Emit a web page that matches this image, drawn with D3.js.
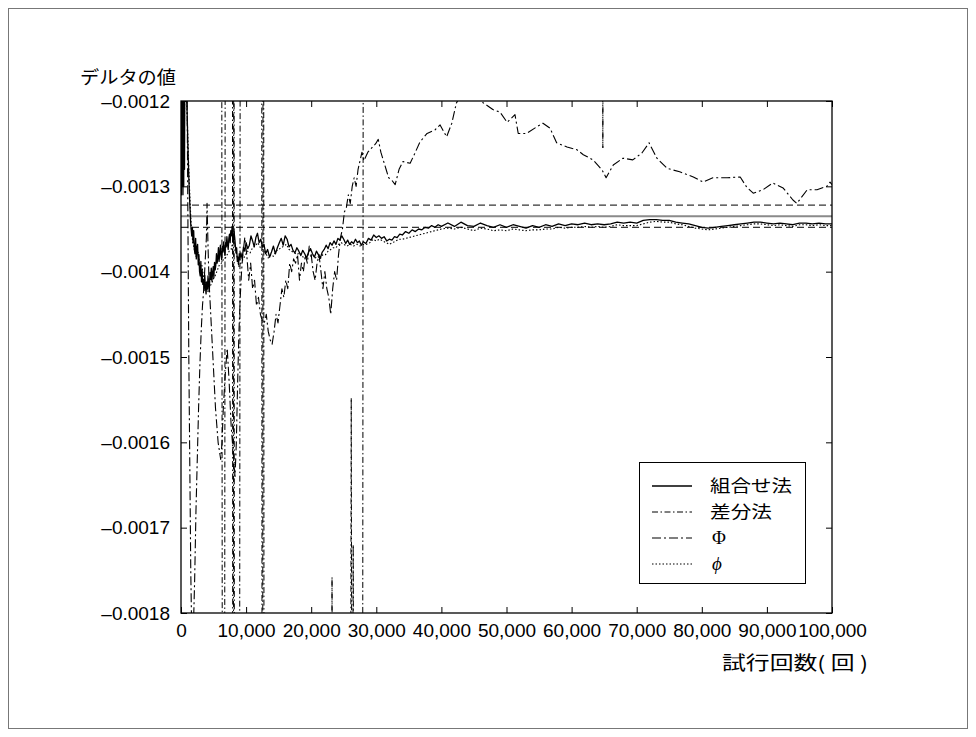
<!DOCTYPE html>
<html>
<head>
<meta charset="utf-8">
<script src="https://cdn.jsdelivr.net/npm/d3@7/dist/d3.min.js"></script>
<style>
  html, body { margin: 0; padding: 0; background: #fff; }
  svg { display: block; }
</style>
</head>
<body>
<svg id="chart" width="976" height="737"></svg>
<script>
// ---- data: [試行回数, デルタ推定値] ----
const xTicks = [0, 10000, 20000, 30000, 40000, 50000, 60000, 70000, 80000, 90000, 100000];
const xTickLabels = ["0", "10,000", "20,000", "30,000", "40,000", "50,000", "60,000", "70,000", "80,000", "90,000", "100,000"];
const yTicks = [-0.0012, -0.0013, -0.0014, -0.0015, -0.0016, -0.0017, -0.0018];
const yTickLabels = ["\u20130.0012", "\u20130.0013", "\u20130.0014", "\u20130.0015", "\u20130.0016", "\u20130.0017", "\u20130.0018"];

// reference level and its band
const refCenter = -0.001335;
const refBand = [-0.001322, -0.001348];

const seriesNames = ["組合せ法", "差分法", "Φ", "ϕ"];

const comboSeries = [
  [0,-0.00105],[60,-0.00131],[120,-0.00108],[180,-0.00130],[240,-0.00109],[300,-0.00131],
  [360,-0.00111],[420,-0.00130],[480,-0.00110],[540,-0.00128],[600,-0.00112],[750,-0.00116],
  [900,-0.00120],[1050,-0.00125],[1200,-0.00129],[1350,-0.00132],[1500,-0.001345],[1650,-0.001358],
  [1750,-0.001348],[1850,-0.001366],[1950,-0.001352],[2050,-0.001374],[2150,-0.001379],[2250,-0.001361],
  [2350,-0.001385],[2450,-0.001372],[2550,-0.001368],[2650,-0.001392],[2750,-0.00138],[2850,-0.0014],
  [2950,-0.001405],[3050,-0.001388],[3150,-0.001412],[3250,-0.001398],[3350,-0.001415],[3450,-0.001409],
  [3550,-0.001422],[3650,-0.001404],[3750,-0.001418],[3850,-0.001426],[3950,-0.001412],[4050,-0.00142],
  [4150,-0.001405],[4250,-0.001417],[4350,-0.001423],[4450,-0.001401],[4550,-0.001409],[4650,-0.001396],
  [4750,-0.001411],[4850,-0.001402],[4950,-0.001394],[5050,-0.001407],[5150,-0.001389],[5250,-0.001398],
  [5350,-0.001392],[5450,-0.001379],[5550,-0.00139],[5650,-0.001384],[5750,-0.001372],[5850,-0.001388],
  [5950,-0.001378],[6050,-0.001369],[6150,-0.001381],[6250,-0.001386],[6350,-0.00137],[6450,-0.001377],
  [6550,-0.001365],[6650,-0.001374],[6750,-0.001381],[6850,-0.001366],[6950,-0.001371],[7050,-0.001359],
  [7150,-0.001368],[7250,-0.001374],[7350,-0.001361],[7450,-0.001356],[7550,-0.001366],[7650,-0.001352],
  [7750,-0.001358],[7850,-0.001347],[7950,-0.001359],[8050,-0.001364],[8150,-0.001353],[8250,-0.00136],
  [8350,-0.001369],[8450,-0.001378],[8550,-0.001372],[8650,-0.001388],[8750,-0.001383],[8850,-0.001392],
  [8950,-0.001379],[9050,-0.001386],[9200,-0.001378],[9400,-0.001385],[9600,-0.001371],[9800,-0.001376],
  [10000,-0.001366],[10250,-0.001373],[10500,-0.001369],[10750,-0.001358],[11000,-0.001364],[11250,-0.001371],
  [11500,-0.00136],[11750,-0.001355],[12000,-0.001366],[12250,-0.001362],[12500,-0.001371],[12750,-0.001368],
  [13000,-0.001379],[13300,-0.001374],[13600,-0.001383],[13900,-0.001377],[14200,-0.00137],[14500,-0.001379],
  [14800,-0.001372],[15100,-0.001366],[15400,-0.001361],[15700,-0.001369],[16000,-0.001358],[16300,-0.001362],
  [16600,-0.001371],[16900,-0.001368],[17200,-0.001375],[17500,-0.001378],[17800,-0.001372],[18100,-0.001376],
  [18400,-0.001381],[18700,-0.001375],[19000,-0.001379],[19300,-0.001384],[19600,-0.001377],[19900,-0.001373],
  [20200,-0.001379],[20500,-0.001383],[20800,-0.001376],[21100,-0.00138],[21400,-0.001384],[21700,-0.001377],
  [22000,-0.001374],[22300,-0.001369],[22600,-0.001373],[22900,-0.001366],[23200,-0.001369],[23500,-0.001364],
  [23800,-0.001368],[24100,-0.001361],[24400,-0.001363],[24700,-0.001358],[25000,-0.001362],[25300,-0.001367],
  [25600,-0.001363],[25900,-0.001368],[26200,-0.001365],[26500,-0.001367],[26800,-0.001362],[27100,-0.001366],
  [27400,-0.001364],[27700,-0.001369],[28000,-0.001365],[28400,-0.001367],[28800,-0.001361],[29200,-0.001363],
  [29600,-0.001357],[30000,-0.00136],[30400,-0.001358],[30800,-0.001361],[31200,-0.001359],[31600,-0.001364],
  [32000,-0.001362],[32400,-0.001363],[32800,-0.001359],[33200,-0.00136],[33600,-0.001356],[34000,-0.001357],
  [34500,-0.001353],[35000,-0.001355],[35500,-0.001351],[36000,-0.001353],[36500,-0.00135],[37000,-0.001351],
  [37500,-0.001348],[38000,-0.001349],[38500,-0.001346],[39000,-0.001348],[39500,-0.001345],[40000,-0.001347],
  [41000,-0.001343],[42000,-0.001347],[43000,-0.001342],[44000,-0.001346],[45000,-0.001347],[46000,-0.001343],
  [47000,-0.001346],[48000,-0.001348],[49000,-0.001345],[50000,-0.001348],[51000,-0.001345],[52000,-0.001347],
  [53000,-0.001349],[54000,-0.001346],[55000,-0.001348],[56000,-0.001345],[57000,-0.001347],[58000,-0.001344],
  [59000,-0.001346],[60000,-0.001344],[61000,-0.001345],[62000,-0.001343],[63000,-0.001345],[64000,-0.001344],
  [65000,-0.001345],[66000,-0.001344],[67000,-0.001342],[68000,-0.001343],[69000,-0.001342],[70000,-0.001343],
  [71000,-0.00134],[72000,-0.001339],[73000,-0.001339],[74000,-0.00134],[75000,-0.00134],[76000,-0.001342],
  [77000,-0.001343],[78000,-0.001344],[79000,-0.001346],[80000,-0.001348],[81000,-0.001349],[82000,-0.001348],
  [83000,-0.001347],[84000,-0.001346],[85000,-0.001345],[86000,-0.001344],[87000,-0.001343],[88000,-0.001342],
  [89000,-0.001342],[90000,-0.001343],[91000,-0.001344],[92000,-0.001343],[93000,-0.001344],[94000,-0.001345],
  [95000,-0.001343],[96000,-0.001343],[97000,-0.001344],[98000,-0.001343],[99000,-0.001344],[100000,-0.001344]
];

const sabunSeries = [
  [0,-0.00100],[6250,-0.00100],[6350,-0.00200],[6700,-0.00200],[6800,-0.00100],
  [7900,-0.00100],[7950,-0.00200],[8050,-0.00200],[8100,-0.00100],[8150,-0.00100],[8200,-0.00200],
  [9000,-0.00200],[9100,-0.00100],[12400,-0.00100],[12450,-0.00200],[12550,-0.00200],
  [12600,-0.00100],[12700,-0.00100],[12750,-0.00200],
  [23150,-0.00200],[23200,-0.001758],[23250,-0.00200],[26050,-0.00200],
  [26150,-0.001548],[26250,-0.00200],[26350,-0.00200],[26450,-0.00172],[26550,-0.00200],
  [27900,-0.00200],[28000,-0.00100],[64750,-0.00100],[64800,-0.001255],[64850,-0.00100],
  [100000,-0.00100]
];

const bigPhiSeries = [
  [0,-0.00110],[300,-0.00112],[600,-0.00109],[900,-0.00115],[1200,-0.00150],[1500,-0.00175],
  [1700,-0.00185],[1900,-0.00182],[2100,-0.00176],[2300,-0.00168],[2500,-0.00162],[2700,-0.00156],
  [2900,-0.00151],[3100,-0.00147],[3300,-0.00144],[3500,-0.00142],[3700,-0.00139],[3900,-0.00136],
  [4000,-0.00132],[4150,-0.00137],[4300,-0.00141],[4500,-0.00144],[4700,-0.00147],[4900,-0.00150],
  [5100,-0.00153],[5300,-0.00156],[5500,-0.00158],[5700,-0.00160],[5900,-0.00161],[6100,-0.00162],
  [6300,-0.00160],[6500,-0.00156],[6800,-0.00152],[7100,-0.00149],[7400,-0.00153],[7700,-0.00158],
  [8000,-0.00161],[8300,-0.00164],[8500,-0.00160],[8700,-0.00153],[8900,-0.00147],[9100,-0.00143],
  [9300,-0.00140],[9500,-0.00138],[9800,-0.00136],[10100,-0.00138],[10400,-0.00141],[10700,-0.00139],
  [11000,-0.00142],[11300,-0.00141],[11600,-0.00144],[11900,-0.00143],[12200,-0.00145],[12500,-0.001458],
  [12800,-0.00146],[13100,-0.00145],[13400,-0.00147],[13700,-0.00148],[14000,-0.001485],[14300,-0.00147],
  [14600,-0.00145],[14900,-0.00146],[15200,-0.00144],[15500,-0.00142],[15800,-0.00143],[16100,-0.00141],
  [16400,-0.00142],[16700,-0.00139],[17000,-0.00140],[17300,-0.001385],[17600,-0.00139],[17900,-0.00138],
  [18200,-0.00141],[18500,-0.00139],[18800,-0.00140],[19100,-0.00138],[19400,-0.00139],[19700,-0.00137],
  [20000,-0.00138],[20300,-0.00140],[20600,-0.00141],[20900,-0.00139],[21200,-0.00138],[21500,-0.00140],
  [21800,-0.00142],[22100,-0.00140],[22400,-0.00142],[22700,-0.00143],[23000,-0.00145],[23300,-0.00142],
  [23600,-0.00140],[23900,-0.00141],[24200,-0.00138],[24500,-0.00136],[24800,-0.00135],[25100,-0.00133],
  [25400,-0.001325],[25700,-0.00131],[26000,-0.00132],[26300,-0.00130],[26600,-0.00129],[26900,-0.00130],
  [27200,-0.00128],[27500,-0.00127],[27800,-0.00126],[28100,-0.00127],[28700,-0.00126],[29300,-0.001255],
  [29900,-0.00125],[30300,-0.001245],[30700,-0.00126],[31100,-0.00127],[31500,-0.00128],[31900,-0.00129],
  [32300,-0.001292],[32900,-0.001298],[33500,-0.00128],[34100,-0.001271],[35200,-0.001273],[36000,-0.00126],
  [36700,-0.001248],[37800,-0.001238],[39000,-0.001234],[39800,-0.001228],[40800,-0.001242],[41600,-0.001226],
  [42300,-0.0012025],[43200,-0.00119],[44400,-0.00118],[45500,-0.00119],[46400,-0.001202],[47900,-0.00121],
  [49000,-0.001213],[50100,-0.001225],[51300,-0.001216],[51800,-0.001238],[53100,-0.001238],[54700,-0.00123],
  [55600,-0.001226],[56700,-0.001232],[57700,-0.001249],[59300,-0.001254],[60800,-0.001257],[61800,-0.001263],
  [63300,-0.001269],[64700,-0.001281],[65300,-0.00129],[66400,-0.001275],[67900,-0.001267],[69400,-0.001269],
  [70800,-0.001261],[71900,-0.001249],[73100,-0.001267],[74700,-0.001279],[76600,-0.001283],[78700,-0.001289],
  [80200,-0.001295],[81700,-0.00129],[83900,-0.00129],[85900,-0.001289],[86900,-0.001301],[87900,-0.001308],
  [89400,-0.001304],[90900,-0.001296],[92500,-0.001302],[94000,-0.001316],[94600,-0.00132],[96200,-0.001304],
  [97700,-0.001304],[99200,-0.0013],[99700,-0.001295],[100000,-0.001298]
];

const smallPhiSeries = [
  [0,-0.00110],[100,-0.00130],[200,-0.00112],[300,-0.00129],[400,-0.00113],[500,-0.00127],
  [600,-0.00115],[800,-0.00118],[1000,-0.00123],[1200,-0.00128],[1400,-0.00132],[1600,-0.00135],
  [1800,-0.001365],[2000,-0.001372],[2300,-0.001382],[2600,-0.001376],[2900,-0.001394],[3200,-0.001392],
  [3500,-0.001408],[3800,-0.001414],[4100,-0.001424],[4400,-0.001418],[4700,-0.001414],[5000,-0.001408],
  [5300,-0.001404],[5600,-0.001398],[5900,-0.001392],[6200,-0.00139],[6500,-0.001386],[6800,-0.001384],
  [7100,-0.00138],[7400,-0.001376],[7700,-0.001374],[8000,-0.001364],[8300,-0.001368],[8600,-0.001382],
  [8900,-0.001394],[9200,-0.00139],[9500,-0.001386],[9800,-0.001382],[10200,-0.001376],[10600,-0.001378],
  [11000,-0.001372],[11400,-0.00137],[11800,-0.001366],[12200,-0.001372],[12600,-0.001374],[13000,-0.001378],
  [13400,-0.001384],[13800,-0.00138],[14200,-0.001382],[14600,-0.001376],[15000,-0.001374],[15400,-0.001372],
  [15800,-0.00137],[16200,-0.001368],[16600,-0.001374],[17000,-0.001376],[17400,-0.001378],[17800,-0.00138],
  [18200,-0.001378],[18600,-0.001382],[19000,-0.001384],[19400,-0.00138],[19800,-0.001382],[20200,-0.00138],
  [20600,-0.001384],[21000,-0.001382],[21400,-0.001385],[21800,-0.00138],[22200,-0.00138],[22600,-0.001376],
  [23000,-0.001374],[23400,-0.001372],[23800,-0.001372],[24200,-0.001368],[24600,-0.001366],[25000,-0.001368],
  [25500,-0.00137],[26000,-0.001368],[26500,-0.00137],[27000,-0.001368],[27500,-0.00137],[28000,-0.001368],
  [28500,-0.001368],[29000,-0.001366],[29500,-0.001362],[30000,-0.001364],[30500,-0.001362],[31000,-0.001364],
  [31500,-0.001366],[32000,-0.001368],[32500,-0.001366],[33000,-0.001364],[33500,-0.001362],[34000,-0.001362],
  [35000,-0.00136],[36000,-0.001358],[37000,-0.001356],[38000,-0.001354],[39000,-0.001352],[40000,-0.00135],
  [41000,-0.001349],[42000,-0.00135],[43000,-0.001348],[44000,-0.00135],[45000,-0.001352],[46000,-0.001349],
  [47000,-0.00135],[48000,-0.001352],[49000,-0.001351],[50000,-0.001352],[51000,-0.00135],[52000,-0.001351],
  [53000,-0.001352],[54000,-0.001351],[55000,-0.001351],[56000,-0.00135],[57000,-0.00135],[58000,-0.001348],
  [59000,-0.001349],[60000,-0.001348],[61000,-0.001348],[62000,-0.001347],[63000,-0.001348],[64000,-0.001347],
  [65000,-0.001348],[66000,-0.001347],[67000,-0.001345],[68000,-0.001346],[69000,-0.001346],[70000,-0.001346],
  [71000,-0.001344],[72000,-0.001342],[73000,-0.001341],[74000,-0.001342],[75000,-0.001342],[76000,-0.001344],
  [77000,-0.001345],[78000,-0.001347],[79000,-0.001349],[80000,-0.00135],[81000,-0.001351],[82000,-0.00135],
  [83000,-0.001349],[84000,-0.001348],[85000,-0.001347],[86000,-0.001346],[87000,-0.001345],[88000,-0.001344],
  [89000,-0.001344],[90000,-0.001345],[91000,-0.001346],[92000,-0.001345],[93000,-0.001346],[94000,-0.001347],
  [95000,-0.001345],[96000,-0.001345],[97000,-0.001346],[98000,-0.001345],[99000,-0.001346],[100000,-0.001346]
];

// ---- drawing ----
const svg = d3.select("#chart");
const W = 976, H = 737;
const plot = { left: 181, right: 832, top: 101, bottom: 613 };

const x = d3.scaleLinear().domain([0, 100000]).range([plot.left, plot.right]);
const y = d3.scaleLinear().domain([-0.0018, -0.0012]).range([plot.bottom, plot.top]);

const latin = "'Liberation Sans', Arial, Helvetica, sans-serif";
const cjk = "'Noto Sans CJK JP', 'Noto Sans CJK SC', sans-serif";

svg.append("rect").attr("width", W).attr("height", H).attr("fill", "#fff");
// figure frame
svg.append("rect")
  .attr("x", 8.5).attr("y", 8.5).attr("width", 959).attr("height", 720)
  .attr("fill", "none").attr("stroke", "#777").attr("stroke-width", 1);

svg.append("clipPath").attr("id", "plotClip")
  .append("rect")
  .attr("x", plot.left).attr("y", plot.top)
  .attr("width", plot.right - plot.left).attr("height", plot.bottom - plot.top);

const g = svg.append("g").attr("clip-path", "url(#plotClip)");

// reference level and band
g.append("line")
  .attr("x1", x(0)).attr("x2", x(100000))
  .attr("y1", y(refCenter)).attr("y2", y(refCenter))
  .attr("stroke", "#8a8a8a").attr("stroke-width", 2);
refBand.forEach(v => {
  g.append("line")
    .attr("x1", x(0)).attr("x2", x(100000))
    .attr("y1", y(v)).attr("y2", y(v))
    .attr("stroke", "#000").attr("stroke-width", 1)
    .attr("stroke-dasharray", "7,4");
});

const line = d3.line().x(d => x(d[0])).y(d => y(d[1]));

const styles = [
  { data: comboSeries,    width: 1.3, dash: null },
  { data: sabunSeries,    width: 1.0, dash: "6,2.5,1.5,2.5" },
  { data: bigPhiSeries,   width: 1.1, dash: "9,3,2,3" },
  { data: smallPhiSeries, width: 1.1, dash: "1.5,2" }
];

// draw the noisier curves first, the combination method on top
[1, 2, 3, 0].forEach(i => {
  const s = styles[i];
  g.append("path")
    .datum(s.data)
    .attr("d", line)
    .attr("fill", "none")
    .attr("stroke", "#000")
    .attr("stroke-width", s.width)
    .attr("stroke-dasharray", s.dash)
    .attr("stroke-linejoin", "round");
});

// axes: ticks inward on all four sides
const tickFmtX = (d, i) => xTickLabels[i];
const tickFmtY = (d, i) => yTickLabels[i];

const axB = svg.append("g").attr("transform", `translate(0,${plot.bottom})`)
  .call(d3.axisBottom(x).tickValues(xTicks).tickFormat(tickFmtX).tickSizeInner(-6).tickSizeOuter(0).tickPadding(11));
const axT = svg.append("g").attr("transform", `translate(0,${plot.top})`)
  .call(d3.axisTop(x).tickValues(xTicks).tickFormat("").tickSizeInner(-6).tickSizeOuter(0));
const axL = svg.append("g").attr("transform", `translate(${plot.left},0)`)
  .call(d3.axisLeft(y).tickValues(yTicks).tickFormat(tickFmtY).tickSizeInner(-6).tickSizeOuter(0).tickPadding(11));
const axR = svg.append("g").attr("transform", `translate(${plot.right},0)`)
  .call(d3.axisRight(y).tickValues(yTicks).tickFormat("").tickSizeInner(-6).tickSizeOuter(0));

[axB, axT, axL, axR].forEach(a => {
  a.select(".domain").remove();
  a.selectAll(".tick line").attr("stroke", "#000").attr("stroke-width", 1);
  a.selectAll("text").attr("fill", "#000").style("font-family", latin).style("font-size", "19px");
});

// plot box
svg.append("rect")
  .attr("x", plot.left).attr("y", plot.top)
  .attr("width", plot.right - plot.left).attr("height", plot.bottom - plot.top)
  .attr("fill", "none").attr("stroke", "#000").attr("stroke-width", 1.3);

// axis titles (glyphs slightly widened, as in the printed figure)
svg.append("text")
  .attr("x", 80).attr("y", 84)
  .attr("textLength", 96).attr("lengthAdjust", "spacingAndGlyphs")
  .style("font-family", cjk).style("font-size", "18px").attr("fill", "#000")
  .text("デルタの値");
svg.append("text")
  .attr("x", 722).attr("y", 670)
  .attr("textLength", 146).attr("lengthAdjust", "spacingAndGlyphs")
  .style("font-family", cjk).style("font-size", "19px").attr("fill", "#000")
  .text("試行回数( 回 )");

// legend
const lg = svg.append("g");
lg.append("rect")
  .attr("x", 639.5).attr("y", 462.5).attr("width", 166).attr("height", 121)
  .attr("fill", "#fff").attr("stroke", "#000").attr("stroke-width", 1);
const rowY = [486, 512, 538, 564];
const legendTextLen = [82, 62, null, null];
seriesNames.forEach((name, i) => {
  const s = styles[i];
  lg.append("line")
    .attr("x1", 652).attr("x2", 692).attr("y1", rowY[i]).attr("y2", rowY[i])
    .attr("stroke", "#000").attr("stroke-width", s.width)
    .attr("stroke-dasharray", s.dash);
  const t = lg.append("text")
    .attr("x", i >= 2 ? 712 : 710).attr("y", rowY[i] + 6)
    .attr("fill", "#000")
    .text(name);
  if (i < 2) {
    t.style("font-family", cjk).style("font-size", "17px")
      .attr("textLength", legendTextLen[i]).attr("lengthAdjust", "spacingAndGlyphs");
  } else {
    t.style("font-family", "'Liberation Serif', 'DejaVu Serif', serif").style("font-size", "19px");
    if (i === 3) t.style("font-style", "italic");
  }
});
</script>
</body>
</html>
